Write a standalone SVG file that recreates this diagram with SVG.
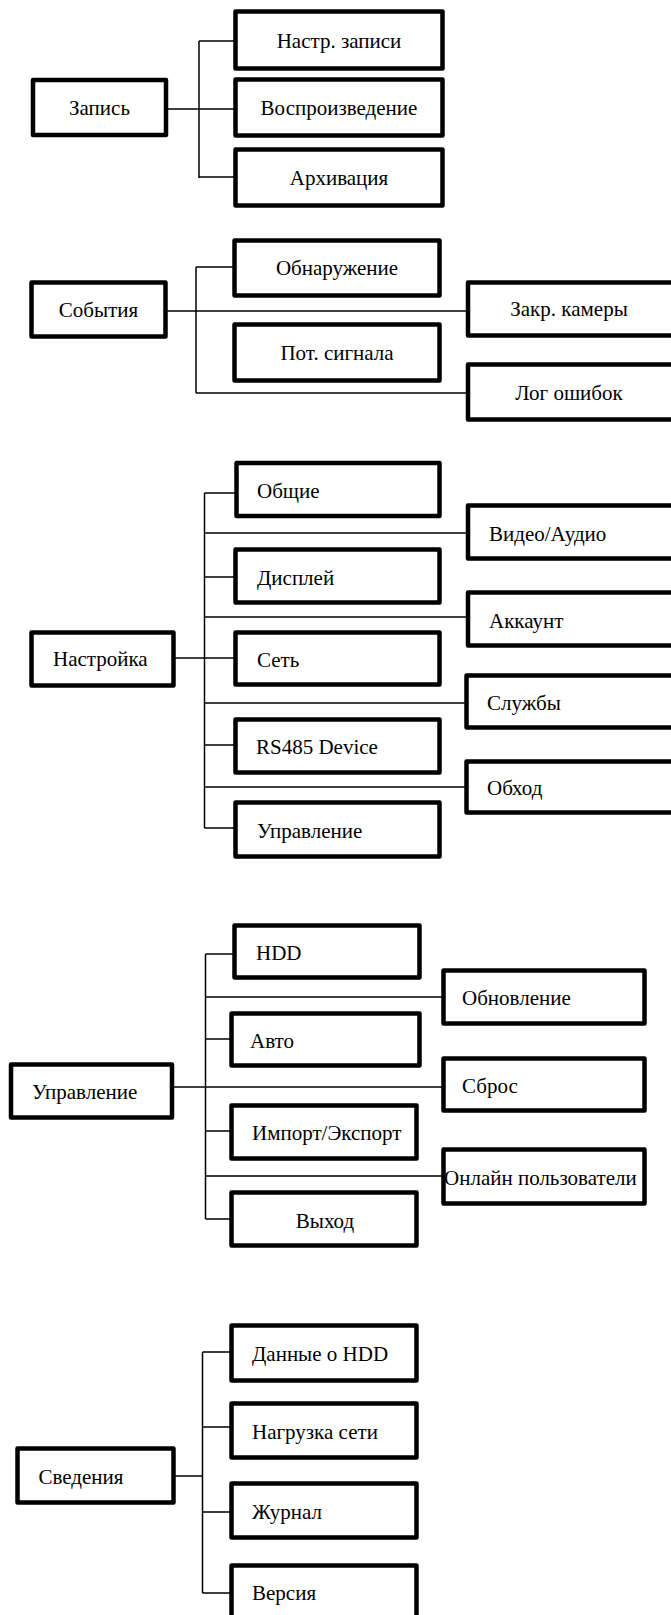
<svg xmlns="http://www.w3.org/2000/svg" width="671" height="1615" viewBox="0 0 671 1615">
<style>
.b{fill:#fff;stroke:#000;stroke-width:4.5;stroke-linejoin:round}
.c{fill:none;stroke:#000;stroke-width:1.5}
text{font-family:"Liberation Serif","Times New Roman",serif;font-size:21px;fill:#000}
.m{text-anchor:middle}
</style>
<rect width="671" height="1615" fill="#fff"/>
<g id="connectors">
<path class="c" d="M199 41V178M199 41H235M166 109H235M199 177H235"/>
<path class="c" d="M196 267V393M196 267H234M166 311H468M196 393H468"/>
<path class="c" d="M204.5 493V828M204.5 493H236M204.5 533H468M204.5 577H236M204.5 617H468M173 658H236M204.5 703H466M204.5 745H236M204.5 787H466M204.5 828H236"/>
<path class="c" d="M205.5 954V1219M205.5 954H234M205.5 997H443M205.5 1039H231M172 1087H443M205.5 1131H231M205.5 1176H443M205.5 1219H231"/>
<path class="c" d="M202.5 1352V1593M202.5 1352H231M202.5 1427H231M173 1476H202.5M202.5 1512H231M202.5 1593H231"/>
</g>
<g id="n-zapis"><rect class="b" x="33" y="80" width="133" height="55"/><text class="m" x="99.5" y="115">Запись</text></g>
<g id="n-nastr-zapisi"><rect class="b" x="235.5" y="11.5" width="207" height="57"/><text class="m" x="339" y="48">Настр. записи</text></g>
<g id="n-vosproizv"><rect class="b" x="235.5" y="79.5" width="207" height="56"/><text class="m" x="339" y="115">Воспроизведение</text></g>
<g id="n-arhiv"><rect class="b" x="235.5" y="149.5" width="207" height="56"/><text class="m" x="339" y="185">Архивация</text></g>

<g id="n-sobytiya"><rect class="b" x="31.5" y="282.5" width="134" height="54"/><text class="m" x="98.5" y="317">События</text></g>
<g id="n-obnar"><rect class="b" x="234.5" y="240.5" width="205" height="55"/><text class="m" x="337" y="275">Обнаружение</text></g>
<g id="n-zakr"><rect class="b" x="468" y="282.5" width="215" height="53"/><text class="m" x="569" y="316">Закр. камеры</text></g>
<g id="n-pot"><rect class="b" x="234.5" y="324.5" width="205" height="56"/><text class="m" x="337" y="360">Пот. сигнала</text></g>
<g id="n-log"><rect class="b" x="468" y="364.5" width="215" height="55"/><text class="m" x="569" y="400">Лог ошибок</text></g>

<g id="n-nastroika"><rect class="b" x="31.5" y="632.5" width="142" height="53"/><text x="53" y="666">Настройка</text></g>
<g id="n-obshie"><rect class="b" x="236.5" y="463" width="203" height="53"/><text x="257" y="498">Общие</text></g>
<g id="n-video"><rect class="b" x="468" y="505.5" width="215" height="53"/><text x="489" y="541">Видео/Аудио</text></g>
<g id="n-displei"><rect class="b" x="235.5" y="549.5" width="204" height="53"/><text x="257" y="585">Дисплей</text></g>
<g id="n-akkaunt"><rect class="b" x="468" y="592.5" width="215" height="53"/><text x="489" y="628">Аккаунт</text></g>
<g id="n-set"><rect class="b" x="235.5" y="632.5" width="204" height="52"/><text x="257" y="667">Сеть</text></g>
<g id="n-sluzhby"><rect class="b" x="466.5" y="675.5" width="215" height="52"/><text x="487" y="710">Службы</text></g>
<g id="n-rs485"><rect class="b" x="235.5" y="719.5" width="204" height="53"/><text x="256" y="754">RS485 Device</text></g>
<g id="n-obhod"><rect class="b" x="466.5" y="761.5" width="215" height="51"/><text x="487" y="795">Обход</text></g>
<g id="n-upr1"><rect class="b" x="235.5" y="802.5" width="204" height="54"/><text x="257" y="838">Управление</text></g>

<g id="n-upravlenie"><rect class="b" x="11" y="1064.5" width="161" height="53"/><text x="32" y="1099">Управление</text></g>
<g id="n-hdd"><rect class="b" x="234.5" y="925.5" width="185" height="52"/><text x="256" y="960">HDD</text></g>
<g id="n-obnovl"><rect class="b" x="443.5" y="970.5" width="201" height="53"/><text x="462" y="1005">Обновление</text></g>
<g id="n-avto"><rect class="b" x="231.5" y="1013.5" width="188" height="52"/><text x="250" y="1048">Авто</text></g>
<g id="n-sbros"><rect class="b" x="443.5" y="1058.5" width="201" height="52"/><text x="462" y="1093">Сброс</text></g>
<g id="n-import"><rect class="b" x="231.5" y="1105.5" width="185" height="53"/><text x="252" y="1140">Импорт/Экспорт</text></g>
<g id="n-online"><rect class="b" x="443.5" y="1149.5" width="201" height="54"/><text x="444" y="1185">Онлайн пользователи</text></g>
<g id="n-vyhod"><rect class="b" x="231.5" y="1192.5" width="185" height="53"/><text class="m" x="325" y="1228">Выход</text></g>

<g id="n-svedeniya"><rect class="b" x="17.5" y="1448.5" width="156" height="54"/><text x="38.5" y="1484">Сведения</text></g>
<g id="n-dannye"><rect class="b" x="231.5" y="1325.5" width="185" height="55"/><text x="252" y="1361">Данные о HDD</text></g>
<g id="n-nagruzka"><rect class="b" x="231.5" y="1403.5" width="185" height="54"/><text x="252" y="1439">Нагрузка сети</text></g>
<g id="n-zhurnal"><rect class="b" x="231.5" y="1483.5" width="185" height="54"/><text x="252" y="1519">Журнал</text></g>
<g id="n-versiya"><rect class="b" x="231.5" y="1565.5" width="185" height="70"/><text x="252" y="1600">Версия</text></g>
</svg>
